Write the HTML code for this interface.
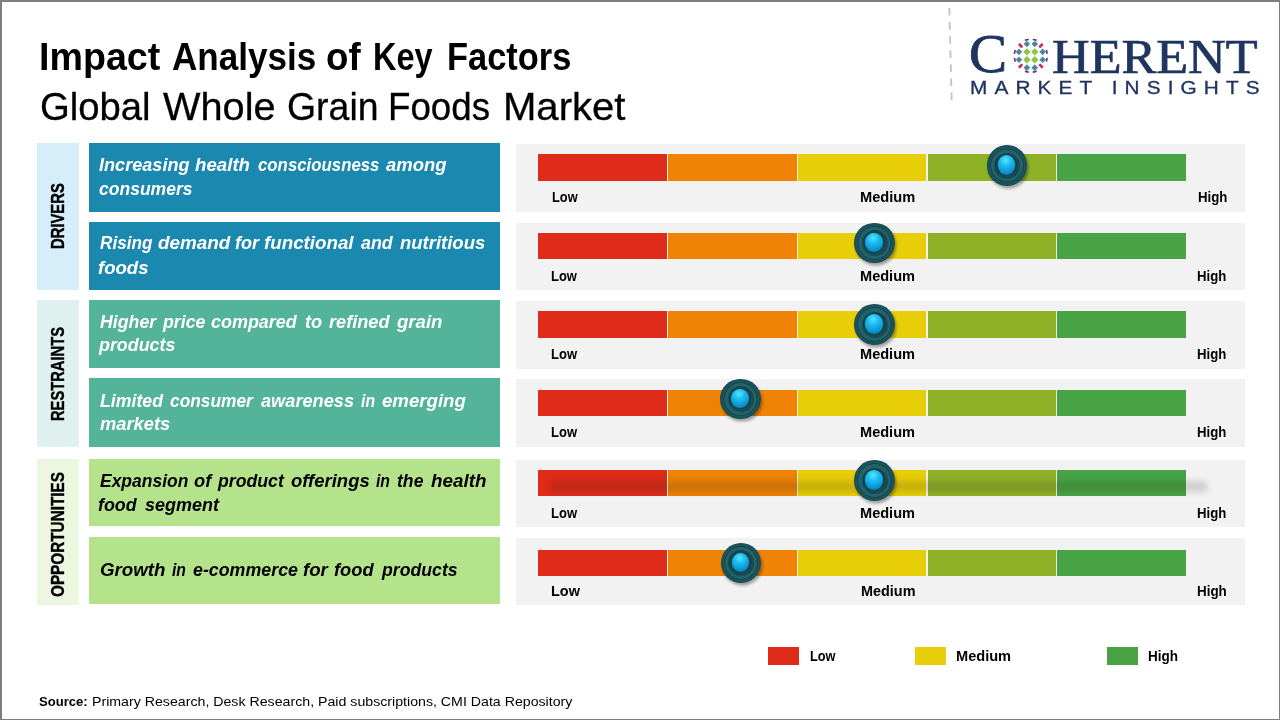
<!DOCTYPE html>
<html lang="en"><head><meta charset="utf-8"><title>Impact Analysis of Key Factors - Global Whole Grain Foods Market</title>
<style>
html,body{margin:0;padding:0;background:#fff}
#s{position:relative;width:1280px;height:720px;overflow:hidden;background:#fff;font-family:'Liberation Sans',sans-serif}
#s:after{content:'';position:absolute;left:0;top:0;right:0;bottom:0;border-style:solid;border-color:#7e7e7e;border-width:2px 1px 1px 2px;box-sizing:border-box;pointer-events:none}
.t{position:absolute;white-space:nowrap;line-height:0;transform-origin:0 50%;color:#000;display:block}
.l{position:absolute;left:0;top:0}
.b{font-weight:bold}.bi{font-weight:bold;font-style:italic}
.serif{font-family:'Liberation Serif',serif}
.v{transform-origin:0 0}
.cat{position:absolute;left:37.2px;width:41.4px}
.row{position:absolute;left:89px;width:410.8px}
.panel{position:absolute;left:516px;width:729px;background:#f2f2f2}
.seg{position:absolute}
.dash{position:absolute;left:947px;top:7.6px}
.st{-webkit-text-stroke:0.7px #1f3560}
.globe{position:absolute;left:1011.7px;top:37px}
.knob{position:absolute;width:40.6px;height:40.6px;border-radius:50%;background:radial-gradient(circle closest-side at 50% 50%,#246870 0,#226269 78%,#13424a 82%,#1b565e 87%,#19515a 95%,#14464e 100%);box-shadow:1.5px 2.5px 3px rgba(0,0,0,.35)}
.knob i{position:absolute;left:7.6px;top:7.6px;width:26px;height:26px;border-radius:50%;background:radial-gradient(circle closest-side at 46% 44%,#1f6068 0,#1a545c 60%,#133f48 92%,#174a52 100%)}
.knob b{position:absolute;left:11px;top:10.1px;width:17.6px;height:19.4px;border-radius:50%;background:radial-gradient(circle at 45% 26%,#58e4ff 0,#1cbcf0 32%,#0d9cd8 62%,#0b7fb8 85%,#1aa6d6 100%)}
.bsh{position:absolute;left:549px;top:480.5px;width:659px;height:11px;border-radius:6px;background:rgba(40,30,20,.17);filter:blur(3.2px)}
</style></head>
<body><div id="s">
<span class="l"> <span class="t b" style="left:39.35px;top:56.3px;font-size:39.6px;transform:scaleX(0.9511);">Impact</span> <span class="t b" style="left:171.75px;top:56.3px;font-size:39.6px;transform:scaleX(0.8854);">Analysis</span> <span class="t b" style="left:325.82px;top:56.3px;font-size:39.6px;transform:scaleX(0.9280);">of</span> <span class="t b" style="left:372.86px;top:56.3px;font-size:39.6px;transform:scaleX(0.8216);">Key</span> <span class="t b" style="left:446.51px;top:56.3px;font-size:39.6px;transform:scaleX(0.8699);">Factors</span> </span>
<span class="l"> <span class="t " style="left:39.90px;top:107.3px;font-size:38.4px;transform:scaleX(0.9968);-webkit-text-stroke:0.3px #000;">Global</span> <span class="t " style="left:162.50px;top:107.3px;font-size:38.4px;transform:scaleX(1.0352);-webkit-text-stroke:0.3px #000;">Whole</span> <span class="t " style="left:286.53px;top:107.3px;font-size:38.4px;transform:scaleX(0.9749);-webkit-text-stroke:0.3px #000;">Grain</span> <span class="t " style="left:388.38px;top:107.3px;font-size:38.4px;transform:scaleX(0.9561);-webkit-text-stroke:0.3px #000;">Foods</span> <span class="t " style="left:502.62px;top:107.3px;font-size:38.4px;transform:scaleX(1.0435);-webkit-text-stroke:0.3px #000;">Market</span> </span>
<svg class="dash" width="8" height="96" viewBox="0 0 8 96"><line x1="2.3" y1="0" x2="4.7" y2="93" stroke="#c4c4c4" stroke-width="1.9" stroke-dasharray="7.6 6.5"/></svg>
<span id="t1" class="t serif st" style="left:969.2px;top:54.0px;font-size:55px;color:#1f3560;transform:scaleX(1.0358);-webkit-text-stroke-width:0.9px;">C</span>
<span id="t2" class="t serif st" style="left:1052.4px;top:56.5px;font-size:47.5px;color:#1f3560;transform:scaleX(1.0974);">HERENT</span>
<span id="t3" class="t" style="left:969.8px;top:88.2px;font-size:17.6px;color:#1f3560;transform:scaleX(1.1821);letter-spacing:6px;-webkit-text-stroke:0.3px #1f3560;">MARKET INSIGHTS</span>
<svg class="globe" width="37.6" height="37.6" viewBox="-20 -20 40 40"><rect x="-2.60" y="-1.45" width="5.2" height="2.9" rx="0.6" fill="#c2305f" transform="translate(-10.84,-10.84) rotate(45)"/><polygon points="-12.60,-7.70 -9.10,-4.20 -12.60,-0.70 -16.10,-4.20" fill="#4c86a0"/><polygon points="-12.60,0.70 -9.10,4.20 -12.60,7.70 -16.10,4.20" fill="#4c86a0"/><rect x="-2.60" y="-1.45" width="5.2" height="2.9" rx="0.6" fill="#c2305f" transform="translate(-10.84,10.84) rotate(-45)"/><polygon points="-4.20,-16.10 -0.70,-12.60 -4.20,-9.10 -7.70,-12.60" fill="#4c86a0"/><polygon points="-4.20,-8.10 -0.30,-4.20 -4.20,-0.30 -8.10,-4.20" fill="#8cc540"/><polygon points="-4.20,0.30 -0.30,4.20 -4.20,8.10 -8.10,4.20" fill="#8cc540"/><polygon points="-4.20,9.10 -0.70,12.60 -4.20,16.10 -7.70,12.60" fill="#4c86a0"/><polygon points="4.20,-16.10 7.70,-12.60 4.20,-9.10 0.70,-12.60" fill="#4c86a0"/><polygon points="4.20,-8.10 8.10,-4.20 4.20,-0.30 0.30,-4.20" fill="#8cc540"/><polygon points="4.20,0.30 8.10,4.20 4.20,8.10 0.30,4.20" fill="#8cc540"/><polygon points="4.20,9.10 7.70,12.60 4.20,16.10 0.70,12.60" fill="#4c86a0"/><rect x="-2.60" y="-1.45" width="5.2" height="2.9" rx="0.6" fill="#c2305f" transform="translate(10.84,-10.84) rotate(-45)"/><polygon points="12.60,-7.70 16.10,-4.20 12.60,-0.70 9.10,-4.20" fill="#4c86a0"/><polygon points="12.60,0.70 16.10,4.20 12.60,7.70 9.10,4.20" fill="#4c86a0"/><rect x="-2.60" y="-1.45" width="5.2" height="2.9" rx="0.6" fill="#c2305f" transform="translate(10.84,10.84) rotate(45)"/><rect x="-2.2" y="-0.9" width="4.4" height="1.8" rx="0.5" fill="#6b3a78" transform="translate(-4.2,-17) rotate(-12)"/><rect x="-2.2" y="-0.9" width="4.4" height="1.8" rx="0.5" fill="#6b3a78" transform="translate(4.2,-17) rotate(12)"/><rect x="-2.2" y="-0.9" width="4.4" height="1.8" rx="0.5" fill="#6b3a78" transform="translate(-4.2,17) rotate(12)"/><rect x="-2.2" y="-0.9" width="4.4" height="1.8" rx="0.5" fill="#6b3a78" transform="translate(4.2,17) rotate(-12)"/><rect x="-2.2" y="-0.9" width="4.4" height="1.8" rx="0.5" fill="#6b3a78" transform="translate(-17,-4.2) rotate(-78)"/><rect x="-2.2" y="-0.9" width="4.4" height="1.8" rx="0.5" fill="#6b3a78" transform="translate(-17,4.2) rotate(78)"/><rect x="-2.2" y="-0.9" width="4.4" height="1.8" rx="0.5" fill="#6b3a78" transform="translate(17,-4.2) rotate(78)"/><rect x="-2.2" y="-0.9" width="4.4" height="1.8" rx="0.5" fill="#6b3a78" transform="translate(17,4.2) rotate(-78)"/></svg>
<div class="cat" style="top:143.2px;height:146.5px;background:#d5eefa"></div>
<span id="t4" class="t b v" style="-webkit-text-stroke:0.35px #000;left:58.3px;top:249.4px;font-size:17.5px;transform:rotate(-90deg) scaleX(0.8458);">DRIVERS</span>
<div class="cat" style="top:300.2px;height:146.8px;background:#dff1ee"></div>
<span id="t5" class="t b v" style="-webkit-text-stroke:0.35px #000;left:58.3px;top:421.3px;font-size:17.5px;transform:rotate(-90deg) scaleX(0.8407);">RESTRAINTS</span>
<div class="cat" style="top:458.9px;height:146.3px;background:#ebf7e0"></div>
<span id="t6" class="t b v" style="-webkit-text-stroke:0.35px #000;left:58.3px;top:596.6px;font-size:17.5px;transform:rotate(-90deg) scaleX(0.8745);">OPPORTUNITIES</span>
<div class="row" style="top:143.3px;height:68.3px;background:#1b88b0"></div>
<span class="l"> <span class="t bi" style="left:99.20px;top:164.8px;font-size:17.9px;transform:scaleX(1.0116);color:#fff;">Increasing</span> <span class="t bi" style="left:195.40px;top:164.8px;font-size:17.9px;transform:scaleX(1.0444);color:#fff;">health</span> <span class="t bi" style="left:257.50px;top:164.8px;font-size:17.9px;transform:scaleX(0.9396);color:#fff;">consciousness</span> <span class="t bi" style="left:386.00px;top:164.8px;font-size:17.9px;transform:scaleX(1.0321);color:#fff;">among</span> </span>
<span class="l"> <span class="t bi" style="left:99.20px;top:189.2px;font-size:17.9px;transform:scaleX(0.9790);color:#fff;">consumers</span> </span>
<div class="panel" style="top:144px;height:67.5px"></div>
<div class="seg" style="left:538.1px;top:154px;width:128.9px;height:27.0px;background:#df2b1a"></div>
<div class="seg" style="left:668.3px;top:154px;width:128.3px;height:27.0px;background:#ee8305"></div>
<div class="seg" style="left:797.9px;top:154px;width:128.3px;height:27.0px;background:#e8ce08"></div>
<div class="seg" style="left:927.5px;top:154px;width:128.3px;height:27.0px;background:#8fb127"></div>
<div class="seg" style="left:1057.1px;top:154px;width:128.9px;height:27.0px;background:#47a344"></div>
<span id="t7" class="t b" style="left:551.9px;top:197.1px;font-size:13.9px;transform:scaleX(0.9215);">Low</span>
<span id="t8" class="t b" style="left:860.3px;top:197.1px;font-size:13.9px;transform:scaleX(1.0536);">Medium</span>
<span id="t9" class="t b" style="left:1197.9px;top:197.1px;font-size:13.9px;transform:scaleX(0.9522);">High</span>
<div class="knob" style="left:986.8px;top:145.2px"><i></i><b></b></div>
<div class="row" style="top:222.0px;height:67.6px;background:#1b88b0"></div>
<span class="l"> <span class="t bi" style="left:99.70px;top:243.3px;font-size:17.9px;transform:scaleX(0.9591);color:#fff;">Rising</span> <span class="t bi" style="left:157.50px;top:243.3px;font-size:17.9px;transform:scaleX(1.0551);color:#fff;">demand</span> <span class="t bi" style="left:234.70px;top:243.3px;font-size:17.9px;transform:scaleX(1.0046);color:#fff;">for</span> <span class="t bi" style="left:263.75px;top:243.3px;font-size:17.9px;transform:scaleX(1.0480);color:#fff;">functional</span> <span class="t bi" style="left:360.60px;top:243.3px;font-size:17.9px;transform:scaleX(0.9976);color:#fff;">and</span> <span class="t bi" style="left:399.70px;top:243.3px;font-size:17.9px;transform:scaleX(1.0335);color:#fff;">nutritious</span> </span>
<span class="l"> <span class="t bi" style="left:97.50px;top:267.5px;font-size:17.9px;transform:scaleX(1.0381);color:#fff;">foods</span> </span>
<div class="panel" style="top:223.1px;height:66.7px"></div>
<div class="seg" style="left:538.1px;top:233.1px;width:128.9px;height:25.7px;background:#df2b1a"></div>
<div class="seg" style="left:668.3px;top:233.1px;width:128.3px;height:25.7px;background:#ee8305"></div>
<div class="seg" style="left:797.9px;top:233.1px;width:128.3px;height:25.7px;background:#e8ce08"></div>
<div class="seg" style="left:927.5px;top:233.1px;width:128.3px;height:25.7px;background:#8fb127"></div>
<div class="seg" style="left:1057.1px;top:233.1px;width:128.9px;height:25.7px;background:#47a344"></div>
<span id="t10" class="t b" style="left:550.6px;top:275.8px;font-size:13.9px;transform:scaleX(0.9323);">Low</span>
<span id="t11" class="t b" style="left:859.7px;top:275.8px;font-size:13.9px;transform:scaleX(1.0479);">Medium</span>
<span id="t12" class="t b" style="left:1196.7px;top:275.8px;font-size:13.9px;transform:scaleX(0.9490);">High</span>
<div class="knob" style="left:854.0px;top:222.8px"><i></i><b></b></div>
<div class="row" style="top:300.2px;height:67.4px;background:#53b499"></div>
<span class="l"> <span class="t bi" style="left:99.70px;top:321.5px;font-size:17.9px;transform:scaleX(0.9914);color:#fff;">Higher</span> <span class="t bi" style="left:162.59px;top:321.5px;font-size:17.9px;transform:scaleX(0.9906);color:#fff;">price</span> <span class="t bi" style="left:211.25px;top:321.5px;font-size:17.9px;transform:scaleX(1.0032);color:#fff;">compared</span> <span class="t bi" style="left:305.00px;top:321.5px;font-size:17.9px;transform:scaleX(1.0143);color:#fff;">to</span> <span class="t bi" style="left:328.75px;top:321.5px;font-size:17.9px;transform:scaleX(1.0137);color:#fff;">refined</span> <span class="t bi" style="left:397.04px;top:321.5px;font-size:17.9px;transform:scaleX(1.0399);color:#fff;">grain</span> </span>
<span class="l"> <span class="t bi" style="left:99.10px;top:345.0px;font-size:17.9px;transform:scaleX(0.9989);color:#fff;">products</span> </span>
<div class="panel" style="top:301px;height:67.5px"></div>
<div class="seg" style="left:538.1px;top:311px;width:128.9px;height:26.7px;background:#df2b1a"></div>
<div class="seg" style="left:668.3px;top:311px;width:128.3px;height:26.7px;background:#ee8305"></div>
<div class="seg" style="left:797.9px;top:311px;width:128.3px;height:26.7px;background:#e8ce08"></div>
<div class="seg" style="left:927.5px;top:311px;width:128.3px;height:26.7px;background:#8fb127"></div>
<div class="seg" style="left:1057.1px;top:311px;width:128.9px;height:26.7px;background:#47a344"></div>
<span id="t13" class="t b" style="left:550.5px;top:354.0px;font-size:13.9px;transform:scaleX(0.9359);">Low</span>
<span id="t14" class="t b" style="left:859.7px;top:354.0px;font-size:13.9px;transform:scaleX(1.0479);">Medium</span>
<span id="t15" class="t b" style="left:1196.7px;top:354.0px;font-size:13.9px;transform:scaleX(0.9490);">High</span>
<div class="knob" style="left:854.1px;top:304.1px"><i></i><b></b></div>
<div class="row" style="top:377.8px;height:68.9px;background:#53b499"></div>
<span class="l"> <span class="t bi" style="left:99.70px;top:400.5px;font-size:17.9px;transform:scaleX(0.9902);color:#fff;">Limited</span> <span class="t bi" style="left:170.00px;top:400.5px;font-size:17.9px;transform:scaleX(0.9677);color:#fff;">consumer</span> <span class="t bi" style="left:260.60px;top:400.5px;font-size:17.9px;transform:scaleX(1.0174);color:#fff;">awareness</span> <span class="t bi" style="left:360.60px;top:400.5px;font-size:17.9px;transform:scaleX(0.8829);color:#fff;">in</span> <span class="t bi" style="left:381.60px;top:400.5px;font-size:17.9px;transform:scaleX(1.0410);color:#fff;">emerging</span> </span>
<span class="l"> <span class="t bi" style="left:99.70px;top:424.0px;font-size:17.9px;transform:scaleX(1.0236);color:#fff;">markets</span> </span>
<div class="panel" style="top:379px;height:67.8px"></div>
<div class="seg" style="left:538.1px;top:390.1px;width:128.9px;height:25.6px;background:#df2b1a"></div>
<div class="seg" style="left:668.3px;top:390.1px;width:128.3px;height:25.6px;background:#ee8305"></div>
<div class="seg" style="left:797.9px;top:390.1px;width:128.3px;height:25.6px;background:#e8ce08"></div>
<div class="seg" style="left:927.5px;top:390.1px;width:128.3px;height:25.6px;background:#8fb127"></div>
<div class="seg" style="left:1057.1px;top:390.1px;width:128.9px;height:25.6px;background:#47a344"></div>
<span id="t16" class="t b" style="left:550.5px;top:432.0px;font-size:13.9px;transform:scaleX(0.9359);">Low</span>
<span id="t17" class="t b" style="left:859.7px;top:432.0px;font-size:13.9px;transform:scaleX(1.0479);">Medium</span>
<span id="t18" class="t b" style="left:1196.7px;top:432.0px;font-size:13.9px;transform:scaleX(0.9490);">High</span>
<div class="knob" style="left:720.4px;top:378.6px"><i></i><b></b></div>
<div class="row" style="top:458.9px;height:67.5px;background:#b5e38c"></div>
<span class="l"> <span class="t bi" style="left:99.70px;top:481.1px;font-size:17.9px;transform:scaleX(0.9764);color:#000;">Expansion</span> <span class="t bi" style="left:194.40px;top:481.1px;font-size:17.9px;transform:scaleX(1.0223);color:#000;">of</span> <span class="t bi" style="left:217.89px;top:481.1px;font-size:17.9px;transform:scaleX(0.9880);color:#000;">product</span> <span class="t bi" style="left:291.25px;top:481.1px;font-size:17.9px;transform:scaleX(1.0327);color:#000;">offerings</span> <span class="t bi" style="left:376.25px;top:481.1px;font-size:17.9px;transform:scaleX(0.8797);color:#000;">in</span> <span class="t bi" style="left:396.60px;top:481.1px;font-size:17.9px;transform:scaleX(0.9856);color:#000;">the</span> <span class="t bi" style="left:430.90px;top:481.1px;font-size:17.9px;transform:scaleX(1.0539);color:#000;">health</span> </span>
<span class="l"> <span class="t bi" style="left:97.50px;top:504.7px;font-size:17.9px;transform:scaleX(0.9971);color:#000;">food</span> <span class="t bi" style="left:145.00px;top:504.7px;font-size:17.9px;transform:scaleX(1.0052);color:#000;">segment</span> </span>
<div class="panel" style="top:460.2px;height:66.7px"></div>
<div class="seg" style="left:538.1px;top:470.2px;width:128.9px;height:25.6px;background:#df2b1a"></div>
<div class="seg" style="left:668.3px;top:470.2px;width:128.3px;height:25.6px;background:#ee8305"></div>
<div class="seg" style="left:797.9px;top:470.2px;width:128.3px;height:25.6px;background:#e8ce08"></div>
<div class="seg" style="left:927.5px;top:470.2px;width:128.3px;height:25.6px;background:#8fb127"></div>
<div class="seg" style="left:1057.1px;top:470.2px;width:128.9px;height:25.6px;background:#47a344"></div>
<div class="bsh"></div>
<span id="t19" class="t b" style="left:550.5px;top:513.0px;font-size:13.9px;transform:scaleX(0.9359);">Low</span>
<span id="t20" class="t b" style="left:859.7px;top:513.0px;font-size:13.9px;transform:scaleX(1.0479);">Medium</span>
<span id="t21" class="t b" style="left:1196.7px;top:513.0px;font-size:13.9px;transform:scaleX(0.9490);">High</span>
<div class="knob" style="left:854.1px;top:460.3px"><i></i><b></b></div>
<div class="row" style="top:536.9px;height:67.5px;background:#b5e38c"></div>
<span class="l"> <span class="t bi" style="left:99.70px;top:570.4px;font-size:17.9px;transform:scaleX(1.0466);color:#000;">Growth</span> <span class="t bi" style="left:171.60px;top:570.4px;font-size:17.9px;transform:scaleX(0.8766);color:#000;">in</span> <span class="t bi" style="left:192.50px;top:570.4px;font-size:17.9px;transform:scaleX(0.9956);color:#000;">e-commerce</span> <span class="t bi" style="left:302.80px;top:570.4px;font-size:17.9px;transform:scaleX(1.0428);color:#000;">for</span> <span class="t bi" style="left:334.00px;top:570.4px;font-size:17.9px;transform:scaleX(1.0222);color:#000;">food</span> <span class="t bi" style="left:381.99px;top:570.4px;font-size:17.9px;transform:scaleX(0.9886);color:#000;">products</span> </span>
<div class="panel" style="top:538.2px;height:67.3px"></div>
<div class="seg" style="left:538.1px;top:549.8px;width:128.9px;height:26.6px;background:#df2b1a"></div>
<div class="seg" style="left:668.3px;top:549.8px;width:128.3px;height:26.6px;background:#ee8305"></div>
<div class="seg" style="left:797.9px;top:549.8px;width:128.3px;height:26.6px;background:#e8ce08"></div>
<div class="seg" style="left:927.5px;top:549.8px;width:128.3px;height:26.6px;background:#8fb127"></div>
<div class="seg" style="left:1057.1px;top:549.8px;width:128.9px;height:26.6px;background:#47a344"></div>
<span id="t22" class="t b" style="left:550.5px;top:591.3px;font-size:14.6px;transform:scaleX(0.9901);">Low</span>
<span id="t23" class="t b" style="left:860.9px;top:591.3px;font-size:14.6px;transform:scaleX(0.9884);">Medium</span>
<span id="t24" class="t b" style="left:1197.2px;top:591.3px;font-size:14.6px;transform:scaleX(0.9187);">High</span>
<div class="knob" style="left:720.7px;top:542.8px"><i></i><b></b></div>
<div class="seg" style="left:768px;top:646.9px;width:30.8px;height:18px;background:#df2b1a"></div>
<div class="seg" style="left:915px;top:646.9px;width:30.7px;height:18px;background:#e8ce08"></div>
<div class="seg" style="left:1106.6px;top:646.9px;width:31.4px;height:18px;background:#47a344"></div>
<span id="t25" class="t b" style="left:810.0px;top:656.0px;font-size:13.9px;transform:scaleX(0.9179);">Low</span>
<span id="t26" class="t b" style="left:955.5px;top:656.0px;font-size:13.9px;transform:scaleX(1.0498);">Medium</span>
<span id="t27" class="t b" style="left:1148.2px;top:656.0px;font-size:13.9px;transform:scaleX(0.9717);">High</span>
<span id="t28" class="t b" style="left:39.3px;top:701.7px;font-size:13.2px;transform:scaleX(0.9917);">Source:</span>
<span id="t29" class="t" style="left:91.5px;top:701.7px;font-size:13.2px;transform:scaleX(1.0745);">Primary Research, Desk Research, Paid subscriptions, CMI Data Repository</span>
</div></body></html>
